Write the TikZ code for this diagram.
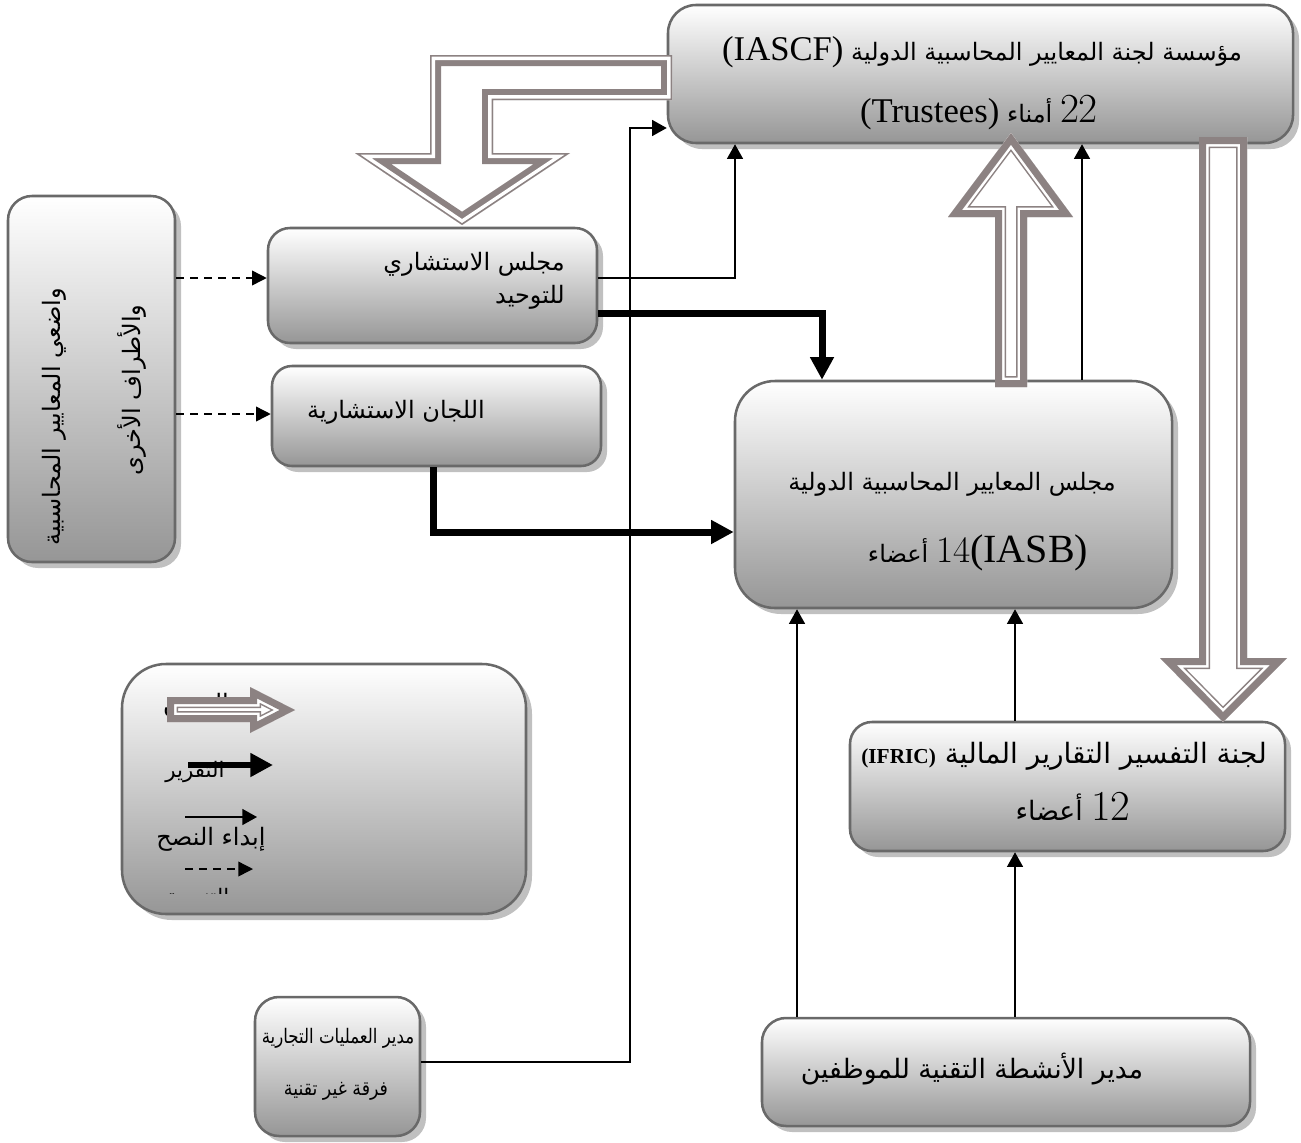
\documentclass[tikz,border=0pt]{standalone}
\usepackage{fontspec}
\TeXXeTstate=1
\newfontfamily\arfont[Script=Arabic]{DejaVu Sans}
\newfontfamily\latfont{Liberation Serif}
\usetikzlibrary{arrows.meta,shadows}
\definecolor{bordergray}{RGB}{105,105,105}
\definecolor{shadowgray}{RGB}{192,192,192}
\definecolor{bottomgray}{RGB}{150,150,150}
\definecolor{arrowgray}{RGB}{140,130,130}
\newcommand\AR[1]{{\arfont\beginR#1\endR}}
\newcommand\LT[1]{\beginL{#1}\endL}
\newcommand\fsz[1]{\fontsize{#1}{#1}\selectfont}
\newcommand\hollowA[1]{%
\begin{scope}
\fill[white] #1 -- cycle;
\clip #1 -- cycle;
\draw[arrowgray,line width=16.5pt] #1 -- cycle;
\draw[white,line width=14.25pt] #1 -- cycle;
\draw[arrowgray,line width=10.5pt] #1 -- cycle;
\end{scope}}
\newcommand\hollowB[1]{%
\begin{scope}
\fill[white] #1 -- cycle;
\clip #1 -- cycle;
\draw[arrowgray,line width=16.5pt] #1 -- cycle;
\draw[white,line width=7.5pt] #1 -- cycle;
\draw[arrowgray,line width=2.25pt] #1 -- cycle;
\end{scope}}
\begin{document}
\begin{tikzpicture}[x=0.75pt,y=-0.75pt,
  box/.style={rectangle, draw=bordergray, line width=1.9pt, top color=white, bottom color=bottomgray,
    inner sep=0pt, drop shadow={shadow xshift=4.5pt, shadow yshift=-4.5pt, fill=shadowgray, opacity=1}},
  txt/.style={inner sep=0pt, anchor=base},
  thinarr/.style={line width=1.1pt, -{Triangle[length=11pt,width=12pt]}},
  thickarr/.style={line width=5.25pt, -{Triangle[length=17pt,width=17pt]}},
  dasharr/.style={line width=1.1pt, dash pattern=on 6pt off 4.5pt, -{Triangle[length=11pt,width=11pt]}}]
\fill[white] (0,0) rectangle (1301,1142);
% boxes
\node[box, rounded corners=21pt, minimum width=468.75pt, minimum height=103.5pt] (iascf) at (980.5,74) {};
\node[box, rounded corners=18pt, minimum width=125.25pt, minimum height=274.5pt] (stake) at (91.5,379) {};
\node[box, rounded corners=16.5pt, minimum width=246.75pt, minimum height=86.25pt] (sac) at (432.5,285.5) {};
\node[box, rounded corners=15pt, minimum width=246.75pt, minimum height=75pt] (adv) at (436.5,416) {};
\node[box, rounded corners=30pt, minimum width=327.75pt, minimum height=170.25pt] (iasb) at (953.5,494.5) {};
\node[box, rounded corners=16.5pt, minimum width=326.25pt, minimum height=96.75pt] (ifric) at (1067.5,786.5) {};
\node[box, rounded corners=33pt, minimum width=303pt, minimum height=187.5pt] (legend) at (324,789) {};
\node[box, rounded corners=18pt, minimum width=123.75pt, minimum height=104.25pt] (ops) at (337.5,1066.5) {};
\node[box, rounded corners=18pt, minimum width=366pt, minimum height=81pt] (tech) at (1006,1072) {};
% texts
\node[txt] (t1) at (982,60) {\fsz{18}\AR{مؤسسة لجنة المعايير المحاسبية الدولية \LT{\latfont\fsz{26}(IASCF)}}};
\node[txt] (t2) at (979,122) {\fsz{18}\AR{\LT{\rmfamily\fsz{31}22} أمناء \LT{\latfont\fsz{26}(Trustees)}}};
\node[txt, rotate=90] (t3) at (60,417) {\fsz{18}\AR{واضعي المعايير المحاسبية}};
\node[txt, rotate=90] (t4) at (140,390) {\fsz{18}\AR{والأطراف الأخرى}};
\node[txt, anchor=base east] (t5) at (565,270) {\fsz{18}\AR{مجلس الاستشاري}};
\node[txt, anchor=base east] (t6) at (565,303) {\fsz{18}\AR{للتوحيد}};
\node[txt] (t7) at (396,418) {\fsz{18}\AR{اللجان الاستشارية}};
\node[txt] (t8) at (952,490) {\fsz{18}\AR{مجلس المعايير المحاسبية الدولية}};
\node[txt] (t9) at (978,562) {\fsz{18}\AR{\LT{\rmfamily\fsz{28}14\latfont\fsz{30}(IASB)} أعضاء}};
\node[txt] (t10) at (1064,763) {\fsz{21}\AR{لجنة التفسير التقارير المالية  \LT{\latfont\bfseries\fsz{16}(IFRIC)}}};
\node[txt] (t11) at (1073,820) {\fsz{20}\AR{\LT{\rmfamily\fsz{32}12} أعضاء}};
\node[txt] (t12) at (338,1043) {\scalebox{0.83}[1]{\fsz{15}\AR{مدير العمليات  التجارية}}};
\node[txt] (t13) at (336,1095) {\scalebox{0.87}[1]{\fsz{15}\AR{فرقة غير تقنية}}};
\node[txt] (t14) at (972,1078) {\fsz{20}\AR{مدير الأنشطة  التقنية للموظفين}};
% legend
\node[txt] (l1) at (196,711) {\fsz{18}\AR{التعيين}};
\node[txt] (l2) at (195,777) {\fsz{16}\AR{التقرير}};
\node[txt] (l3) at (211,845) {\fsz{18}\AR{إبداء النصح}};
\begin{scope}
\clip (130,880) rectangle (300,893);
\node[txt] (l4) at (195,904) {\fsz{16}\AR{التنسيق}};
\end{scope}
\coordinate (la) at (188,765); \coordinate (lb) at (273,765);
\coordinate (lc) at (185,817); \coordinate (ld) at (257,817);
\coordinate (le) at (185,869); \coordinate (lf) at (253,869);
\draw[thickarr, line width=4.5pt] (la) -- (lb);
\draw[thinarr] (lc) -- (ld);
\draw[dasharr] (le) -- (lf);
% connectors
\coordinate (r1) at (735,278);
\draw[thinarr] (sac.east |- r1) -- (r1) -- (r1 |- iascf.south);
\coordinate (r2) at (822,313);
\draw[thickarr] (sac.east |- r2) -- (r2) -- (r2 |- iasb.north);
\coordinate (r3) at (433,532);
\draw[thickarr] (r3 |- adv.south) -- (r3) -- (r3 -| iasb.west);
\coordinate (r4) at (630,1062); \coordinate (r5) at (630,128);
\draw[thinarr] (ops.east |- r4) -- (r4) -- (r5) -- (r5 -| iascf.west);
\coordinate (r6) at (1082,300);
\draw[thinarr] (r6 |- iasb.north) -- (r6 |- iascf.south);
\coordinate (r7) at (797,900);
\draw[thinarr] (r7 |- tech.north) -- (r7 |- iasb.south);
\coordinate (r8) at (1015,900);
\draw[thinarr] (r8 |- tech.north) -- (r8 |- ifric.south);
\draw[thinarr] (r8 |- ifric.north) -- (r8 |- iasb.south);
\coordinate (r9) at (200,278); \coordinate (r10) at (200,414);
\draw[dasharr] (stake.east |- r9) -- (r9 -| sac.west);
\draw[dasharr] (stake.east |- r10) -- (r10 -| adv.west);
% block arrows
\hollowA{(1011,133) -- (1073,217) -- (1027,217) -- (1027,387) -- (995,387) -- (995,217) -- (948,217)}
\hollowA{(1199,137) -- (1247,137) -- (1247,658) -- (1287,658) -- (1223,722) -- (1160,658) -- (1199,658)}
\hollowB{(672,55) -- (430,55) -- (430,153) -- (355,153) -- (462,225) -- (570,153) -- (493,153) -- (493,100) -- (672,100)}
\hollowA{(167,697) -- (250,697) -- (250,687) -- (295,710) -- (250,733) -- (250,722) -- (167,722)}
\end{tikzpicture}
\end{document}
